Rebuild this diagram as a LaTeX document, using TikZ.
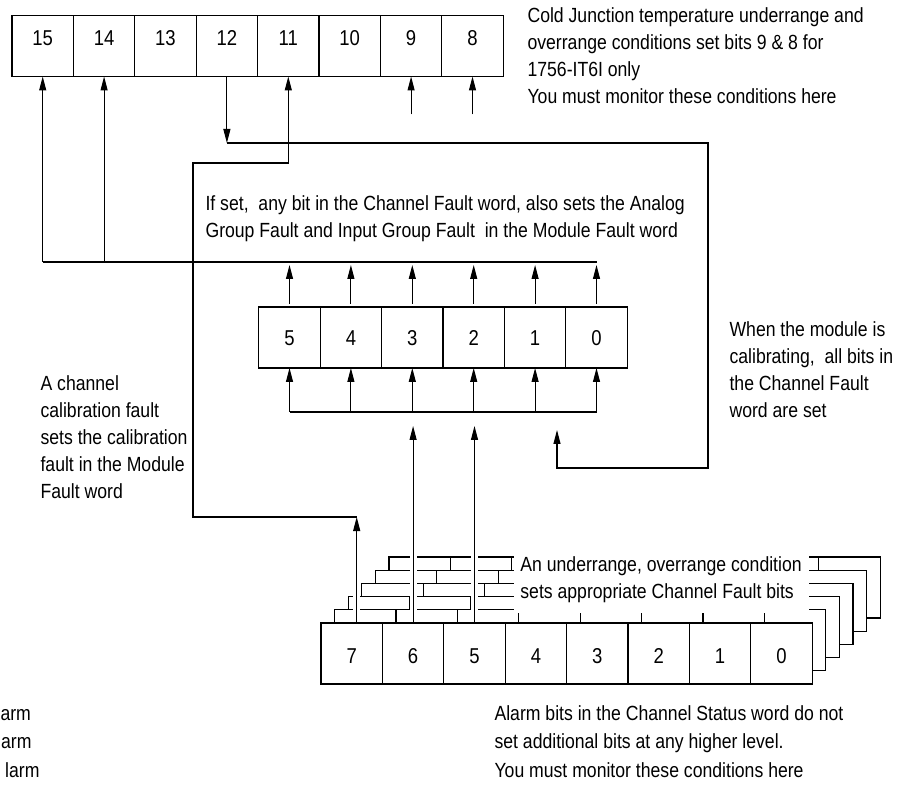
\documentclass[tikz,border=0pt]{standalone}
\usepackage{fontspec}
\setmainfont{Liberation Sans}[FakeStretch=0.86]
\usetikzlibrary{arrows.meta,positioning}
\tikzset{
  bitbox/.style={draw,fill=white,minimum width=61.4pt,minimum height=61pt,inner sep=0pt,outer sep=0pt,
    text height=15.5pt,text depth=0pt,font=\fontsize{21.5}{26}\selectfont},
  arr/.style={-{Triangle[length=14pt,width=7pt]}},
  halo/.style={draw=white,line width=7pt},
  note/.style={anchor=north west,inner sep=0pt,align=left},
}

\begin{document}
\begin{tikzpicture}[x=1pt,y=-1pt,line width=1.1pt,font=\fontsize{20.5}{27}\selectfont]
\useasboundingbox (0,0) rectangle (922,786);
% module fault word
\foreach \b [count=\i from 0] in {15,...,8}
  {\node[bitbox] (t\b) at (42.7+61.4*\i,46) {\raisebox{8pt}{\b}};}
% channel fault word
\foreach \b [count=\i from 0] in {5,...,0}
  {\node[bitbox] (m\b) at (289.5+61.4*\i,337.5) {\b};}
% channel status words
\foreach \k in {5,...,1}{
  \begin{scope}[shift={({13.6*\k},{-13.2*\k})}]
    \draw[fill=white] (321,623) rectangle (812.2,684);
    \foreach \j in {1,...,7}{\draw (321+61.4*\j,623)--(321+61.4*\j,684);}
  \end{scope}}
\foreach \b [count=\i from 0] in {7,...,0}
  {\node[bitbox] (s\b) at (351.7+61.4*\i,653.5) {\raisebox{-2pt}{\b}};}

\coordinate (busU) at (0,262);
\coordinate (busUt) at (0,265);
\coordinate (busL) at (0,412);
\coordinate (busLt) at (0,426);
\coordinate (calR) at (708,143);
\coordinate (calB) at (708,468);
\coordinate (calT) at (557,430);
\coordinate (ccfB) at (193,517);
\coordinate (ccfT) at (193,163);
\coordinate (s7up) at ([xshift=5pt]s7.north);

\foreach \n in {s7up,s6.north,s5.north}{\draw[halo] ([yshift=1pt]\n) -- ++(0,-68);}

\draw (t15.south |- busU) -- (m0.north |- busU);
\foreach \b in {15,14}{\draw[arr] (t\b.south |- busU) -- (t\b.south);}
\foreach \b in {9,8}{\draw[arr] ([yshift=-38pt]t\b.south) -- (t\b.south);}
\draw[arr] (t12.south) -- (t12.south |- calR);
\draw[arr] (t12.south |- calR) -- (calR) -- (calB) -| (calT);
\draw[arr] (s7up) -- (s7up |- ccfB);
\draw[arr] (s7up |- ccfB) -- (ccfB) |- (t11.south |- ccfT) -- (t11.south);
\foreach \b in {5,...,0}{
  \draw[arr] ([yshift=3pt]m\b.north) -- (m\b.north |- busUt);
  \draw[arr] (m\b.south |- busL) -- (m\b.south);}
\draw (m5.south |- busL) -- (m0.south |- busL);
\foreach \b in {6,5}{\draw[arr] (s\b.north) -- (s\b.north |- busLt);}

\node[note] (cjnote) at (527,7) {Cold Junction temperature underrange and\\overrange conditions set bits 9 \& 8 for\\1756-IT6I only\\You must monitor these conditions here};
\node[note] (cfnote) at (205,195) {If set,\ \ any bit in the Channel Fault word, also sets the Analog\\Group Fault and Input Group Fault\ \ in the Module Fault word};
\node[note] (calnote) at (729,321) {When the module is\\calibrating,\ \ all bits in\\the Channel Fault\\word are set};
\node[note] (ccfnote) at (40,375) {A channel\\calibration fault\\sets the calibration\\fault in the Module\\Fault word};
\node[note,fill=white,minimum width=295pt,minimum height=66pt] (urnote) at (513,546) {An underrange, overrange condition\\sets appropriate Channel Fault bits};
\node[note,font=\fontsize{20.5}{28.5}\selectfont] (alnote) at (494,705) {Alarm bits in the Channel Status word do not\\set additional bits at any higher level.\\You must monitor these conditions here};
\node[anchor=base west,inner sep=0pt] (al1) at (0,720) {arm};
\node[anchor=base east,inner sep=0pt] (al2) at (32,748) {arm};
\node[anchor=base east,inner sep=0pt] (al3) at (40,777) {larm};
\end{tikzpicture}
\end{document}
